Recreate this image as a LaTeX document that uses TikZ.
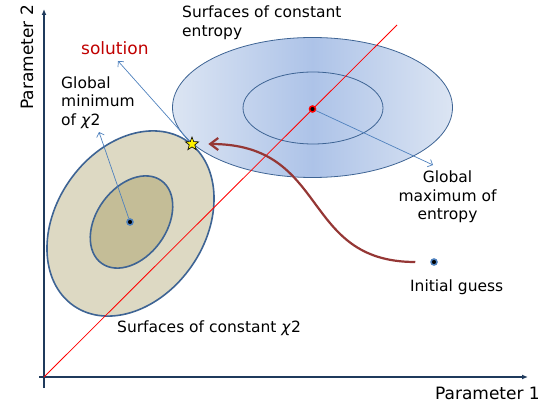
\documentclass[tikz,border=0pt]{standalone}
\usepackage{fontspec}
\setmainfont{DejaVu Sans}
\usetikzlibrary{arrows.meta,shapes.geometric}
\definecolor{AxisNavy}{HTML}{1F3A5C}
\definecolor{RimBlue}{HTML}{3E6494}
\definecolor{PointerBlue}{HTML}{4F81BD}
\definecolor{PathRed}{HTML}{953735}
\definecolor{SolRed}{HTML}{C00000}
\definecolor{TanLight}{HTML}{DDD9C3}
\definecolor{TanDark}{HTML}{C4BD97}
\definecolor{IceEdge}{HTML}{DCE5F3}
\definecolor{IceMid}{HTML}{ADC3E8}

\begin{document}
\begin{tikzpicture}[x=1pt,y=1pt,
  lbl/.style={font=\fontsize{15.5}{19}\selectfont,inner sep=0},
  axlbl/.style={font=\fontsize{17}{20}\selectfont,inner sep=0},
  dot/.style={circle,fill=black,inner sep=0,minimum size=6pt,line width=1.5pt},
  pointer/.style={-{Straight Barb[length=4pt,width=8pt]},PointerBlue,line width=0.7pt}]
  \useasboundingbox (0,0) rectangle (550,408);
  % entropy surfaces
  \shade[left color=IceEdge,right color=IceEdge,middle color=IceMid] (312.5,300.5) ellipse [x radius=140,y radius=70];
  \draw[RimBlue,line width=0.8pt] (312.5,300.5) ellipse [x radius=140,y radius=70];
  \draw[RimBlue,line width=0.8pt] (313,300) ellipse [x radius=70,y radius=36];
  % chi2 surfaces
  \draw[RimBlue,line width=1.6pt,fill=TanLight,rotate around={55.5:(130.5,184.5)}] (130.5,184.5) ellipse [x radius=100,y radius=74.5];
  \draw[RimBlue,line width=1.6pt,fill=TanDark,rotate around={54:(131.5,186)}] (131.5,186) ellipse [x radius=51,y radius=35];
  % axes
  \coordinate (origin) at (44,31);
  \draw[AxisNavy,line width=1.6pt,-{Latex[length=6pt,width=5pt]}] (39,31) -- (528,31);
  \draw[AxisNavy,line width=1.6pt,-{Latex[length=6pt,width=5pt]}] (44,20) -- (44,399);
  \draw[red,line width=0.8pt] (origin) -- (397,383);

  \node[dot,draw=red] (entmax) at (312.5,299) {};
  \node[dot,draw=PointerBlue] (chimin) at (130,186) {};
  \node[dot,draw=PointerBlue] (guess) at (434,146) {};
  \node[star,star points=5,star point ratio=2.4,draw=black,fill=yellow,inner sep=0,minimum size=14pt,line width=0.6pt] (sol) at (192,264) {};

  \node[lbl,anchor=base west,align=left] (entlbl) at (182,371) {Surfaces of constant\\entropy};
  \node[axlbl,text=SolRed,anchor=base west] (sollbl) at (81,353) {solution};
  \node[lbl,anchor=base west,align=left] (minlbl) at (61,282) {Global\\minimum\\of \textit{χ}2};
  \node[lbl,anchor=base,align=center] (maxlbl) at (447.5,188) {Global\\maximum of\\entropy};
  \node[lbl,anchor=base] (guesslbl) at (456.7,117) {Initial guess};
  \node[lbl,anchor=base west] (chilbl) at (117,76) {Surfaces of constant \textit{χ}2};
  \node[axlbl,anchor=base east] (p1) at (540,9) {Parameter 1};
  \node[axlbl,rotate=90,anchor=base west] (p2) at (33,298) {Parameter 2};

  \coordinate (soltip) at (118,347);
  \coordinate (chitip) at (99,276);
  \coordinate (enttip) at (433,243);
  \draw[pointer] (sol) -- (soltip);
  \draw[pointer] (chimin) -- (chitip);
  \draw[pointer] (entmax) -- (enttip);
  \draw[PathRed,line width=2.2pt,-{Straight Barb[length=8pt,width=12pt]},shorten <=15pt,shorten >=12pt]
    (guess) .. controls (300,146) and (330,264) .. (sol);
\end{tikzpicture}
\end{document}
